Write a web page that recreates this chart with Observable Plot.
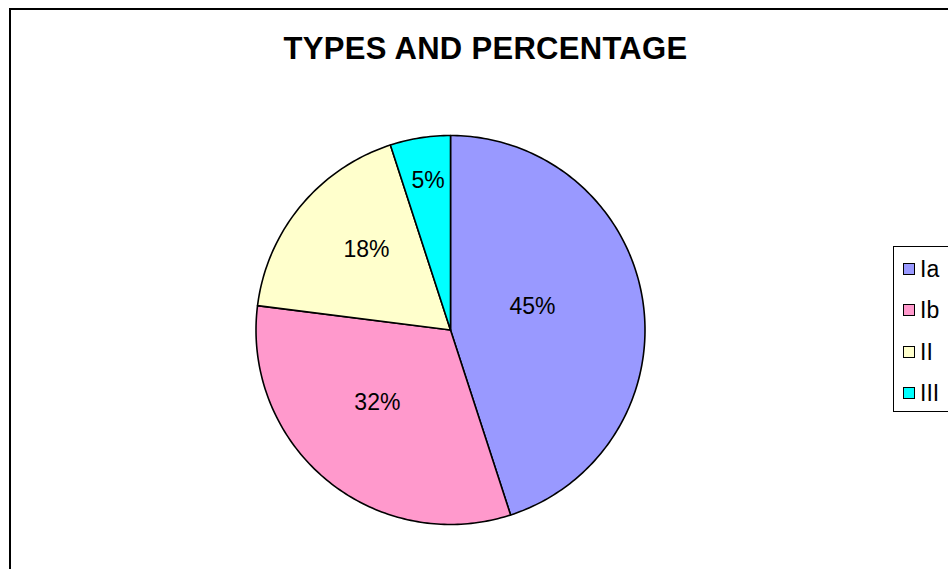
<!DOCTYPE html>
<html>
<head>
<meta charset="utf-8">
<script src="https://cdn.jsdelivr.net/npm/d3@7"></script>
<script src="https://cdn.jsdelivr.net/npm/@observablehq/plot@0.6"></script>
<style>
  body { margin: 0; background: #fff; }
  #chart { position: relative; width: 948px; height: 569px; overflow: hidden;
           font-family: "Liberation Sans", Arial, sans-serif; color: #000; }
  #chart svg { position: absolute; left: 0; top: 0; }
  #frame { position: absolute; left: 9px; top: 8px; width: 1100px; height: 800px;
           border: 2px solid #000; box-sizing: border-box; }
  #title { position: absolute; left: 0; top: 32.8px; width: 971px; text-align: center;
           font-weight: bold; font-size: 31px; line-height: 31px; letter-spacing: 0.3px; }
  #legend { position: absolute; left: 893px; top: 246px; width: 120px; height: 166px;
            border: 1px solid #000; box-sizing: border-box; background: #fff; }
  .row { position: absolute; left: 9px; height: 26px; font-size: 23px; line-height: 26px; }
  .sw { position: absolute; left: 0; width: 12px; height: 12px; border: 1px solid #000;
        box-sizing: border-box; }
  .lab { position: absolute; left: 17px; top: 0; white-space: nowrap; }
</style>
</head>
<body>
<div id="chart">
  <div id="frame"></div>
  <div id="title"></div>
  <div id="legend"></div>
</div>
<script>
// Chart content
const chartTitle = "TYPES AND PERCENTAGE";
const types = ["Ia", "Ib", "II", "III"];
const percents = [45, 32, 18, 5];
const colors = ["#9999FF", "#FF99CC", "#FFFFCC", "#00FFFF"];

// Pie geometry (pixels)
const cx = 450, cy = 329.5, r = 194.5;
// Percentage label placement: distance from centre (fraction of radius)
// and a small turn (degrees) away from each slice's mid angle
const labelRadius = [0.438, 0.53, 0.596, 0.776];
const labelTurn = [-6.7, 5.6, 4, 0.5];

// Angles run clockwise from twelve o'clock
const arcs = d3.pie().sort(null).value(d => d)(percents);

const slices = arcs.map((a, i) => {
  const pts = [{x: 0, y: 0}];
  const steps = Math.max(4, Math.ceil((a.endAngle - a.startAngle) / (Math.PI / 180)));
  for (let k = 0; k <= steps; k++) {
    const t = a.startAngle + (a.endAngle - a.startAngle) * k / steps;
    pts.push({x: Math.sin(t), y: Math.cos(t)});
  }
  pts.push({x: 0, y: 0});
  return {type: types[i], color: colors[i], pts};
});

const labels = arcs.map((a, i) => {
  const m = (a.startAngle + a.endAngle) / 2 + labelTurn[i] * Math.PI / 180;
  return {x: Math.sin(m) * labelRadius[i], y: Math.cos(m) * labelRadius[i], text: percents[i] + "%"};
});

const plot = Plot.plot({
  width: 948,
  height: 569,
  margin: 0,
  style: {background: "transparent", fontFamily: "'Liberation Sans', Arial, sans-serif"},
  x: {domain: [-1, 1], range: [cx - r, cx + r], axis: null},
  y: {domain: [-1, 1], range: [cy + r, cy - r], axis: null},
  marks: [
    ...slices.map(s => Plot.line(s.pts, {
      x: "x", y: "y", fill: s.color, stroke: "#000", strokeWidth: 1.6,
      strokeLinejoin: "round", curve: "linear"
    })),
    Plot.text(labels, {x: "x", y: "y", text: "text", fontSize: 23, fill: "#000"})
  ]
});
document.getElementById("chart").insertBefore(plot, document.getElementById("frame"));

document.getElementById("title").textContent = chartTitle;

// Legend entries
const legend = document.getElementById("legend");
types.forEach((t, i) => {
  const row = document.createElement("div");
  row.className = "row";
  row.style.top = (9 + i * 41.3) + "px";
  const sw = document.createElement("div");
  sw.className = "sw";
  sw.style.top = "7px";
  sw.style.background = colors[i];
  const lab = document.createElement("div");
  lab.className = "lab";
  lab.textContent = t;
  row.appendChild(sw);
  row.appendChild(lab);
  legend.appendChild(row);
});
</script>
</body>
</html>
